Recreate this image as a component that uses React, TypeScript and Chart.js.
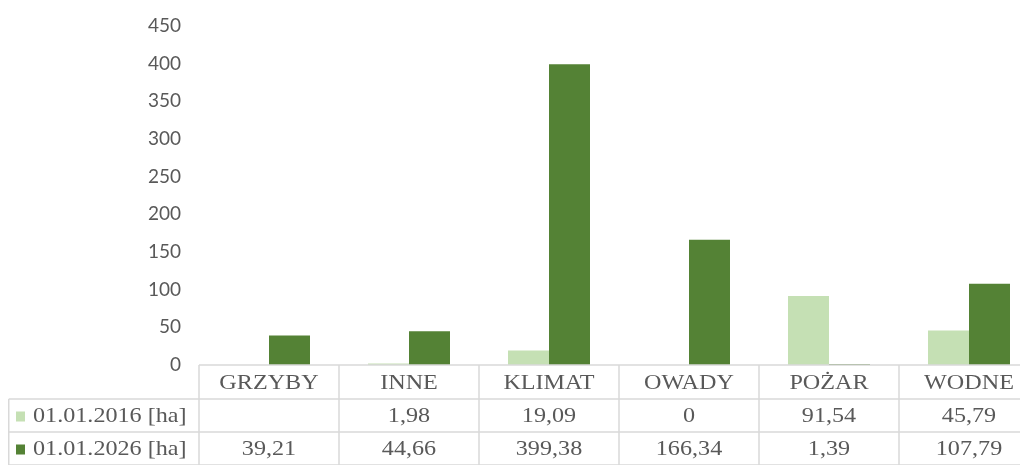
import React, { useEffect, useRef } from "react";
import { Chart, registerables } from "chart.js";

Chart.register(...registerables);

const categories = ["GRZYBY", "INNE", "KLIMAT", "OWADY", "POŻAR", "WODNE"];
const seriesLabels = ["01.01.2016 [ha]", "01.01.2026 [ha]"];
const values2016: (number | null)[] = [null, 1.98, 19.09, 0, 91.54, 45.79];
const values2026: (number | null)[] = [39.21, 44.66, 399.38, 166.34, 1.39, 107.79];
const seriesColors = ["#C5E0B4", "#548235"];
const yMin = 0;
const yMax = 450;
const yStep = 50;

const fmt = (v: number | null) => (v === null ? "" : String(v).replace(".", ","));

const TEXT_COLOR = "#595959";
const LINE_COLOR = "#d9d9d9";
const TABLE_FONT = "21px 'Liberation Serif', 'Times New Roman', serif";
const STRETCH = 1.15;

function drawStretched(ctx: CanvasRenderingContext2D, text: string, x: number, y: number, align: CanvasTextAlign) {
  ctx.save();
  ctx.translate(x, y);
  ctx.scale(STRETCH, 1);
  ctx.textAlign = align;
  ctx.textBaseline = "middle";
  ctx.fillText(text, 0, 0);
  ctx.restore();
}

const tablePlugin = {
  id: "dataTable",
  afterDraw(chart: any) {
    const { ctx, chartArea } = chart;
    const n = categories.length;
    const cw = (chartArea.right - chartArea.left) / n;
    const y0 = chartArea.bottom;
    const rowH = [34, 33, 33];
    const y1 = y0 + rowH[0];
    const y2 = y1 + rowH[1];
    const y3 = y2 + rowH[2];
    const xL = 0.75;
    ctx.save();
    ctx.strokeStyle = LINE_COLOR;
    ctx.lineWidth = 1.5;
    ctx.beginPath();
    ctx.moveTo(chartArea.left, y0);
    ctx.lineTo(chart.width, y0);
    ctx.moveTo(xL, y1);
    ctx.lineTo(chart.width, y1);
    ctx.moveTo(xL, y2);
    ctx.lineTo(chart.width, y2);
    ctx.moveTo(xL, y3);
    ctx.lineTo(chart.width, y3);
    ctx.moveTo(xL, y1);
    ctx.lineTo(xL, y3);
    for (let i = 0; i <= n; i++) {
      const x = chartArea.left + i * cw;
      ctx.moveTo(x, y0);
      ctx.lineTo(x, y3);
    }
    ctx.stroke();

    ctx.fillStyle = TEXT_COLOR;
    ctx.font = TABLE_FONT;
    const rows = [values2016, values2026];
    categories.forEach((c, i) => {
      const cx = chart.scales.x.getPixelForValue(i);
      drawStretched(ctx, c, cx, y0 + rowH[0] / 2 + 1, "center");
      rows.forEach((r, k) => {
        const cy = (k === 0 ? y1 : y2) + rowH[k + 1] / 2 + 1;
        drawStretched(ctx, fmt(r[i]), cx, cy, "center");
      });
    });
    seriesLabels.forEach((lab, k) => {
      const cy = (k === 0 ? y1 : y2) + rowH[k + 1] / 2 + 1;
      ctx.fillStyle = seriesColors[k];
      ctx.fillRect(8, cy - 5, 9, 10);
      ctx.fillStyle = TEXT_COLOR;
      drawStretched(ctx, lab, 25, cy, "left");
    });
    ctx.restore();
  },
};

export default function App() {
  const ref = useRef<HTMLCanvasElement>(null);
  useEffect(() => {
    document.documentElement.style.overflow = "hidden";
    const canvas = ref.current!;
    const chart = new Chart(canvas, {
      type: "bar",
      data: {
        labels: categories,
        datasets: [
          { label: seriesLabels[0], data: values2016, backgroundColor: seriesColors[0], borderWidth: 0 },
          { label: seriesLabels[1], data: values2026, backgroundColor: seriesColors[1], borderWidth: 0 },
        ],
      },
      options: {
        animation: false,
        responsive: false,
        devicePixelRatio: 1,
        layout: { padding: { left: 0, right: 9, top: 18, bottom: 100 } },
        datasets: { bar: { categoryPercentage: 82 / 140, barPercentage: 1 } },
        plugins: { legend: { display: false }, tooltip: { enabled: false } },
        scales: {
          x: { display: false },
          y: {
            min: yMin,
            max: yMax,
            grid: { display: false, drawTicks: false },
            border: { display: false },
            ticks: {
              stepSize: yStep,
              padding: 18,
              color: TEXT_COLOR,
              font: { family: "Lato, 'Open Sans', sans-serif", size: 19 },
            },
            afterFit(scale: any) {
              scale.width = 191;
              scale.paddingTop = 0;
              scale.paddingBottom = 0;
            },
          },
        },
      },
      plugins: [tablePlugin],
    });
    return () => chart.destroy();
  }, []);
  return (
    <div style={{ width: 1020, height: 457, overflow: "hidden" }}>
      <canvas ref={ref} width={1040} height={457} style={{ display: "block" }} />
    </div>
  );
}
